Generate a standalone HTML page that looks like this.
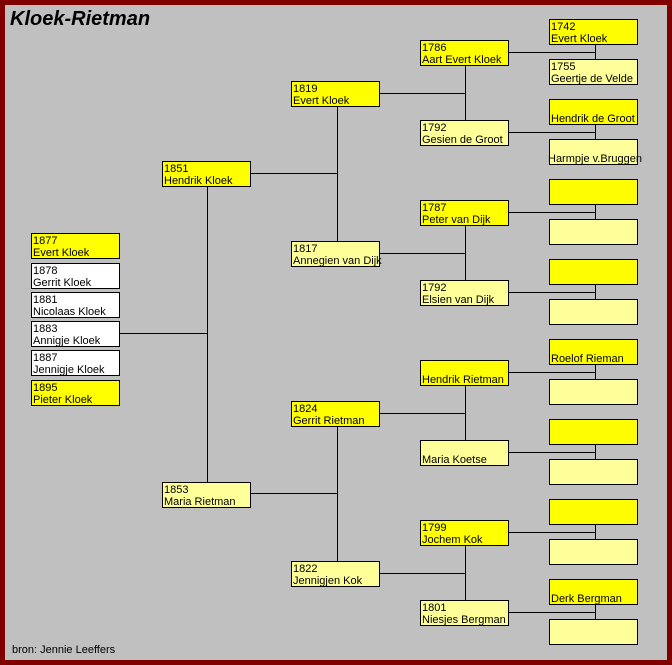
<!DOCTYPE html>
<html><head><meta charset="utf-8"><style>
html,body{margin:0;padding:0}
body{width:672px;height:665px;position:relative;background:#c0c0c0;overflow:hidden;font-family:"Liberation Sans",Arial,sans-serif}
.frame{position:absolute;left:0;top:0;width:662px;height:655px;border-style:solid;border-color:#800000;border-width:5px 5px 5px 5px}
.b{position:absolute;width:89px;height:26px;box-sizing:border-box;border:1px solid #000;font-size:11px;line-height:12px;padding:1px 0 0 1px;white-space:nowrap;color:#000}
.y{background:#ffff00}.l{background:#ffff99}.w{background:#fff}
.nb{padding-top:13px}
svg{position:absolute;left:0;top:0}
.t{position:absolute;left:10px;top:8px;font-size:20px;font-weight:bold;font-style:italic;letter-spacing:0}
.src{position:absolute;left:12px;top:644px;font-size:11px}
</style></head><body>
<div class="frame"></div>
<div class="t">Kloek-Rietman</div>
<svg width="672" height="665" stroke="#000" stroke-width="1" shape-rendering="crispEdges">
<line x1="119" y1="333.5" x2="207.5" y2="333.5"/>
<line x1="207.5" y1="186" x2="207.5" y2="482"/>
<line x1="250" y1="173.5" x2="337.5" y2="173.5"/>
<line x1="337.5" y1="106" x2="337.5" y2="241"/>
<line x1="250" y1="493.5" x2="337.5" y2="493.5"/>
<line x1="337.5" y1="426" x2="337.5" y2="561"/>
<line x1="379" y1="93.5" x2="465.5" y2="93.5"/>
<line x1="465.5" y1="65" x2="465.5" y2="120"/>
<line x1="379" y1="253.5" x2="465.5" y2="253.5"/>
<line x1="465.5" y1="225" x2="465.5" y2="280"/>
<line x1="379" y1="413.5" x2="465.5" y2="413.5"/>
<line x1="465.5" y1="385" x2="465.5" y2="440"/>
<line x1="379" y1="573.5" x2="465.5" y2="573.5"/>
<line x1="465.5" y1="545" x2="465.5" y2="600"/>
<line x1="508" y1="52.5" x2="595.5" y2="52.5"/><line x1="595.5" y1="44" x2="595.5" y2="59"/>
<line x1="508" y1="132.5" x2="595.5" y2="132.5"/><line x1="595.5" y1="124" x2="595.5" y2="139"/>
<line x1="508" y1="212.5" x2="595.5" y2="212.5"/><line x1="595.5" y1="204" x2="595.5" y2="219"/>
<line x1="508" y1="292.5" x2="595.5" y2="292.5"/><line x1="595.5" y1="284" x2="595.5" y2="299"/>
<line x1="508" y1="372.5" x2="595.5" y2="372.5"/><line x1="595.5" y1="364" x2="595.5" y2="379"/>
<line x1="508" y1="452.5" x2="595.5" y2="452.5"/><line x1="595.5" y1="444" x2="595.5" y2="459"/>
<line x1="508" y1="532.5" x2="595.5" y2="532.5"/><line x1="595.5" y1="524" x2="595.5" y2="539"/>
<line x1="508" y1="612.5" x2="595.5" y2="612.5"/><line x1="595.5" y1="604" x2="595.5" y2="619"/>
</svg>
<div class="b y" style="left:31px;top:233px">1877<br>Evert Kloek</div>
<div class="b w" style="left:31px;top:263px">1878<br>Gerrit Kloek</div>
<div class="b w" style="left:31px;top:292px">1881<br>Nicolaas Kloek</div>
<div class="b w" style="left:31px;top:321px">1883<br>Annigje Kloek</div>
<div class="b w" style="left:31px;top:350px">1887<br>Jennigje Kloek</div>
<div class="b y" style="left:31px;top:380px">1895<br>Pieter Kloek</div>
<div class="b y" style="left:162px;top:161px">1851<br>Hendrik Kloek</div>
<div class="b l" style="left:162px;top:482px">1853<br>Maria Rietman</div>
<div class="b y" style="left:291px;top:81px">1819<br>Evert Kloek</div>
<div class="b l" style="left:291px;top:241px">1817<br>Annegien van Dijk</div>
<div class="b y" style="left:291px;top:401px">1824<br>Gerrit Rietman</div>
<div class="b l" style="left:291px;top:561px">1822<br>Jennigjen Kok</div>
<div class="b y" style="left:420px;top:40px">1786<br>Aart Evert Kloek</div>
<div class="b l" style="left:420px;top:120px">1792<br>Gesien de Groot</div>
<div class="b y" style="left:420px;top:200px">1787<br>Peter van Dijk</div>
<div class="b l" style="left:420px;top:280px">1792<br>Elsien van Dijk</div>
<div class="b y nb" style="left:420px;top:360px">Hendrik Rietman</div>
<div class="b l nb" style="left:420px;top:440px">Maria Koetse</div>
<div class="b y" style="left:420px;top:520px">1799<br>Jochem Kok</div>
<div class="b l" style="left:420px;top:600px">1801<br>Niesjes Bergman</div>
<div class="b y" style="left:549px;top:19px">1742<br>Evert Kloek</div>
<div class="b l" style="left:549px;top:59px">1755<br>Geertje de Velde</div>
<div class="b y nb" style="left:549px;top:99px">Hendrik de Groot</div>
<div class="b l nb" style="left:549px;top:139px;padding-left:0;text-indent:-2px">Harmpje v.Bruggen</div>
<div class="b y" style="left:549px;top:179px"></div>
<div class="b l" style="left:549px;top:219px"></div>
<div class="b y" style="left:549px;top:259px"></div>
<div class="b l" style="left:549px;top:299px"></div>
<div class="b y nb" style="left:549px;top:339px">Roelof Rieman</div>
<div class="b l" style="left:549px;top:379px"></div>
<div class="b y" style="left:549px;top:419px"></div>
<div class="b l" style="left:549px;top:459px"></div>
<div class="b y" style="left:549px;top:499px"></div>
<div class="b l" style="left:549px;top:539px"></div>
<div class="b y nb" style="left:549px;top:579px">Derk Bergman</div>
<div class="b l" style="left:549px;top:619px"></div>
<div class="src">bron: Jennie Leeffers</div>
</body></html>
